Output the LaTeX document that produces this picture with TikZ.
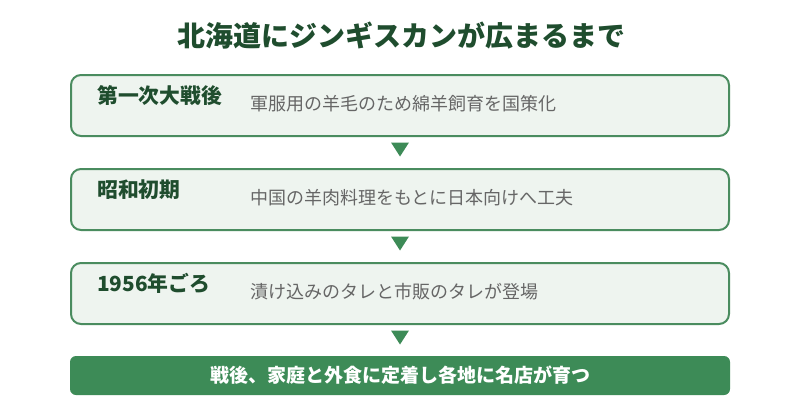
\documentclass[tikz,border=0pt]{standalone}
\usepackage{fontspec}
\setmainfont{Noto Sans CJK JP}
\definecolor{titlegreen}{HTML}{1F4D2E}
\definecolor{boxborder}{HTML}{4A8C5F}
\definecolor{boxfill}{HTML}{EEF4EF}
\definecolor{descgray}{HTML}{666666}
\definecolor{bargreen}{HTML}{3D8B57}
\tikzset{
  stagebox/.style={draw=boxborder, line width=2pt, fill=boxfill, rounded corners=10pt,
    minimum width=658pt, minimum height=61pt, inner sep=0pt, outer sep=0pt},
  finalbar/.style={fill=bargreen, rounded corners=6pt, minimum width=660pt,
    minimum height=39pt, inner sep=0pt, outer sep=0pt},
  stagelabel/.style={anchor=base west, inner sep=0pt, text=titlegreen,
    font=\bfseries\fontsize{20.8}{24}\selectfont},
  stagedesc/.style={anchor=base west, inner sep=0pt, text=descgray,
    font=\fontsize{18}{22}\selectfont},
  titletext/.style={anchor=base, inner sep=0pt, text=titlegreen,
    font=\bfseries\fontsize{28}{34}\selectfont},
  finaltext/.style={anchor=base, inner sep=0pt, text=white,
    font=\bfseries\fontsize{19}{23}\selectfont},
  downtri/.style={fill=bargreen}
}
\begin{document}
\begin{tikzpicture}[x=1pt,y=-1pt]
\useasboundingbox (0,0) rectangle (800,420);
\fill[white] (0,0) rectangle (800,420);

\node[titletext] (title) at (401,46.6) {北海道にジンギスカンが広まるまで};

\node[stagebox] (b1) at (400,105.5) {};
\node[stagebox] (b2) at (400,199.5) {};
\node[stagebox] (b3) at (400,293.5) {};
\node[finalbar] (fin) at (400,375.5) {};

\node[stagelabel] (l1) at (97,103.9) {第一次大戦後};
\node[stagedesc]  (d1) at (250,110.8) {軍服用の羊毛のため綿羊飼育を国策化};
\node[stagelabel] (l2) at (97,197.9) {昭和初期};
\node[stagedesc]  (d2) at (250,204.8) {中国の羊肉料理をもとに日本向けへ工夫};
\node[stagelabel] (l3) at (97,291.9) {1956年ごろ};
\node[stagedesc]  (d3) at (250,298.8) {漬け込みのタレと市販のタレが登場};
\node[finaltext]  (ft) at (400,382.7) {戦後、家庭と外食に定着し各地に名店が育つ};

\foreach \b in {b1,b2,b3}{
  \fill[downtri] ([xshift=-9pt,yshift=-6.5pt]\b.south) -- ([xshift=9pt,yshift=-6.5pt]\b.south)
    -- ([yshift=-20.5pt]\b.south) -- cycle;
}
\end{tikzpicture}
\end{document}
